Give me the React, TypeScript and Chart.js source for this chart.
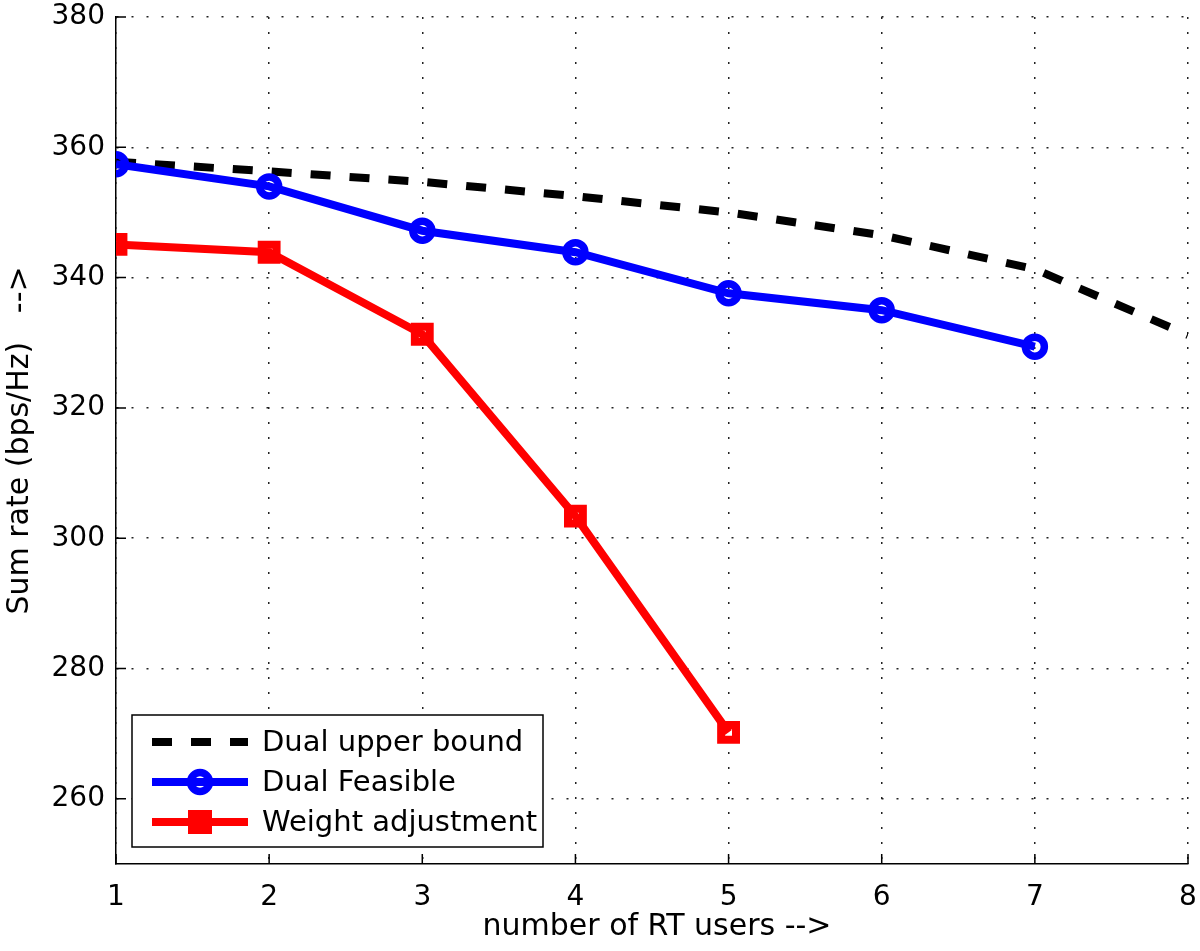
import React, { useEffect, useRef } from "react";
import { Chart, registerables } from "chart.js";

Chart.register(...registerables);

// ---- data ----
const xTicks = [1, 2, 3, 4, 5, 6, 7, 8];
const yTicks = [260, 280, 300, 320, 340, 360, 380];
const usersUpper = [1, 2, 3, 4, 5, 6, 7, 8];
const dualUpperBound = [357.8, 356.3, 354.7, 352.5, 350.0, 346.5, 341.3, 331.2];
const usersFeasible = [1, 2, 3, 4, 5, 6, 7];
const dualFeasible = [357.4, 354.0, 347.2, 343.9, 337.6, 335.0, 329.4];
const usersWeight = [1, 2, 3, 4, 5];
const weightAdjustment = [345.1, 343.9, 331.3, 303.4, 270.2];
const seriesNames = ["Dual upper bound", "Dual Feasible", "Weight adjustment"];
const xTitle = "number of RT users -->";
const yTitle = "Sum rate (bps/Hz)   -->";

const FONT = '"DejaVu Sans", sans-serif';

const overlay = {
  id: "overlay",
  afterDraw(chart: any) {
    const { ctx, chartArea: ca, scales } = chart;
    const xs = scales.x;
    const ys = scales.y;
    ctx.save();
    // inward tick marks
    ctx.strokeStyle = "#000";
    ctx.lineWidth = 1.5;
    ctx.setLineDash([]);
    ctx.beginPath();
    for (const v of xTicks) {
      const p = xs.getPixelForValue(v);
      ctx.moveTo(p, ca.bottom);
      ctx.lineTo(p, ca.bottom - 10);
    }
    for (const v of yTicks) {
      const p = ys.getPixelForValue(v);
      ctx.moveTo(ca.left, p);
      ctx.lineTo(ca.left + 10, p);
    }
    ctx.stroke();

    // axis titles
    ctx.fillStyle = "#000";
    ctx.font = `30px ${FONT}`;
    ctx.textAlign = "center";
    ctx.textBaseline = "alphabetic";
    ctx.fillText(xTitle, (ca.left + ca.right) / 2 + 5, chart.height - 16);
    ctx.save();
    ctx.translate(28, (ca.top + ca.bottom) / 2);
    ctx.rotate(-Math.PI / 2);
    ctx.fillText(yTitle, 0, 0);
    ctx.restore();

    // legend
    const bx = ca.left + 16;
    const by = ca.bottom - 149;
    const bw = 411;
    const bh = 132;
    ctx.fillStyle = "#fff";
    ctx.fillRect(bx, by, bw, bh);
    ctx.strokeStyle = "#000";
    ctx.lineWidth = 1.5;
    ctx.strokeRect(bx, by, bw, bh);
    const rows = [by + 27, by + 67, by + 107];
    const ds = chart.data.datasets;
    const lx0 = bx + 20;
    const lx1 = bx + 116;
    const mx = (lx0 + lx1) / 2;
    ds.forEach((d: any, i: number) => {
      const y = rows[i];
      ctx.save();
      ctx.strokeStyle = d.borderColor;
      ctx.lineWidth = d.borderWidth;
      ctx.setLineDash(d.borderDash || []);
      ctx.beginPath();
      ctx.moveTo(lx0, y);
      ctx.lineTo(lx1, y);
      ctx.stroke();
      ctx.setLineDash([]);
      if (i === 1) {
        ctx.lineWidth = d.pointBorderWidth;
        ctx.beginPath();
        ctx.arc(mx, y, d.pointRadius, 0, Math.PI * 2);
        ctx.stroke();
      } else if (i === 2) {
        ctx.fillStyle = d.borderColor;
        ctx.fillRect(mx - 12, y - 12, 24, 24);
      }
      ctx.restore();
      ctx.fillStyle = "#000";
      ctx.font = `29px ${FONT}`;
      ctx.textAlign = "left";
      ctx.textBaseline = "middle";
      ctx.fillText(seriesNames[i], bx + 130, y + 1);
    });
    ctx.restore();
  },
};

export default function App() {
  const ref = useRef<HTMLCanvasElement | null>(null);
  useEffect(() => {
    if (!ref.current) return;
    const tickFont = { family: FONT, size: 28, lineHeight: 1.2 };
    const chart = new Chart(ref.current, {
      type: "line",
      data: {
        datasets: [
          {
            label: seriesNames[0],
            data: usersUpper.map((x, i) => ({ x, y: dualUpperBound[i] })),
            borderColor: "#000000",
            backgroundColor: "#000000",
            borderWidth: 8,
            borderDash: [20, 19],
            pointRadius: 0,
            fill: false,
            tension: 0,
            order: 2,
          },
          {
            label: seriesNames[1],
            data: usersFeasible.map((x, i) => ({ x, y: dualFeasible[i] })),
            borderColor: "#0000ff",
            backgroundColor: "#0000ff",
            borderWidth: 8,
            pointStyle: "circle",
            pointRadius: 9.5,
            pointBorderWidth: 7.5,
            pointBorderColor: "#0000ff",
            pointBackgroundColor: "rgba(0,0,0,0)",
            fill: false,
            tension: 0,
            order: 1,
          },
          {
            label: seriesNames[2],
            data: usersWeight.map((x, i) => ({ x, y: weightAdjustment[i] })),
            borderColor: "#ff0000",
            backgroundColor: "#ff0000",
            borderWidth: 8,
            pointStyle: "rect",
            pointRadius: 10.5,
            pointBorderWidth: 8,
            pointBorderColor: "#ff0000",
            pointBackgroundColor: "rgba(0,0,0,0)",
            fill: false,
            tension: 0,
            order: 0,
          },
        ] as any,
      },
      options: {
        animation: false,
        responsive: true,
        maintainAspectRatio: false,
        layout: { autoPadding: false, padding: { top: 17, right: 12, left: 0, bottom: 0 } },
        plugins: { legend: { display: false }, tooltip: { enabled: false } },
        scales: {
          x: {
            type: "linear",
            min: 1,
            max: 8,
            afterBuildTicks: (s: any) => {
              s.ticks = xTicks.map((v) => ({ value: v }));
            },
            afterFit: (s: any) => {
              s.height = 87;
              s.paddingLeft = 0;
              s.paddingRight = 0;
            },
            ticks: { font: tickFont, color: "#000", padding: 0, maxRotation: 0, autoSkip: false },
            grid: {
              color: "#222",
              lineWidth: 1.5,
              drawTicks: true,
              tickLength: 17,
              tickColor: "rgba(0,0,0,0)",
            },
            border: { display: true, color: "#000", width: 1.5, dash: [2, 13] },
          },
          y: {
            type: "linear",
            min: 250,
            max: 380,
            afterBuildTicks: (s: any) => {
              s.ticks = yTicks.map((v) => ({ value: v }));
            },
            afterFit: (s: any) => {
              s.width = 116;
              s.paddingTop = 0;
              s.paddingBottom = 0;
            },
            ticks: { font: tickFont, color: "#000", padding: 0 },
            grid: {
              color: "#222",
              lineWidth: 1.5,
              drawTicks: true,
              tickLength: 11,
              tickColor: "rgba(0,0,0,0)",
            },
            border: { display: true, color: "#000", width: 1.5, dash: [2, 13] },
          },
        },
      } as any,
      plugins: [overlay],
    });
    return () => chart.destroy();
  }, []);
  return (
    <div style={{ position: "absolute", left: 0, top: 0, width: 1200, height: 951, background: "#fff" }}>
      <canvas ref={ref} />
    </div>
  );
}
